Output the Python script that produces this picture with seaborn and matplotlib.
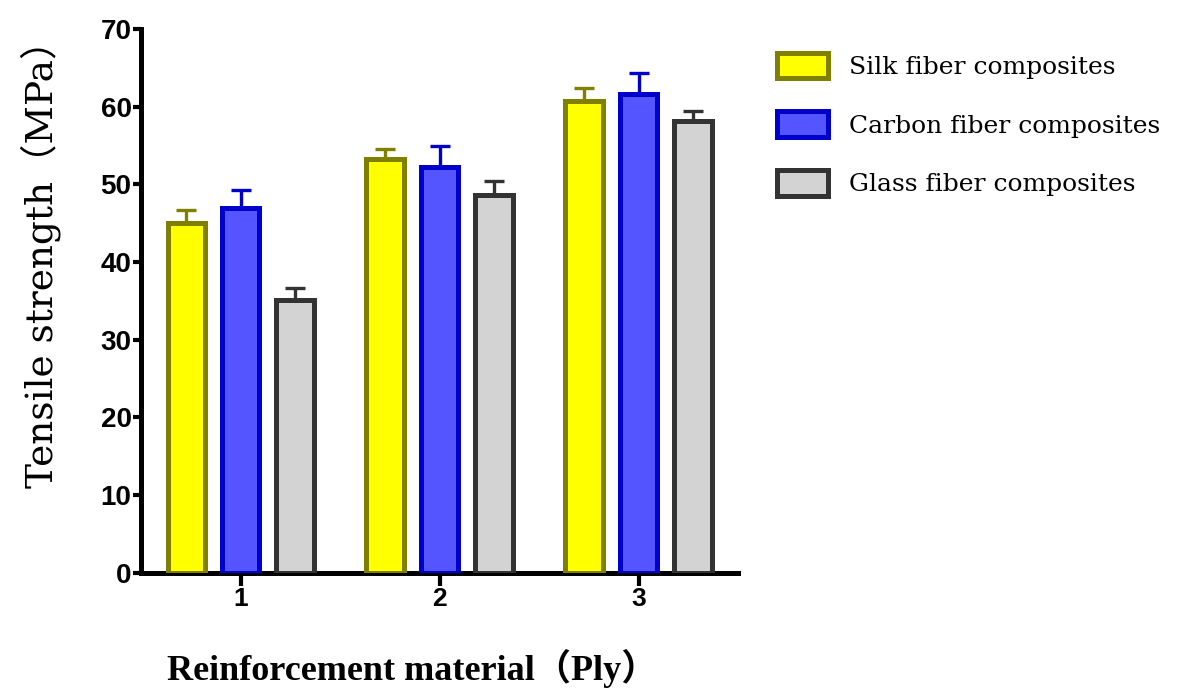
import matplotlib
matplotlib.use("Agg")
import matplotlib.pyplot as plt
import numpy as np
import pandas as pd
import seaborn as sns

# Tensile strength (MPa) by number of plies, with upper error
plies = ["1", "2", "3"]
materials = ["Silk fiber composites", "Carbon fiber composites", "Glass fiber composites"]
silk_mean = [45.0, 53.3, 60.7]
silk_err = [1.7, 1.3, 1.7]
carbon_mean = [47.0, 52.2, 61.6]
carbon_err = [2.3, 2.8, 2.7]
glass_mean = [35.1, 48.6, 58.2]
glass_err = [1.6, 1.8, 1.3]

means = [silk_mean, carbon_mean, glass_mean]
errs = [silk_err, carbon_err, glass_err]
face_colors = ["#FFFF00", "#5555FF", "#D3D3D3"]
edge_colors = ["#808000", "#0000CC", "#333333"]

df = pd.DataFrame({
    "ply": [p for m in materials for p in plies],
    "material": [m for m in materials for _ in plies],
    "strength": [v for series in means for v in series],
})

sns.set_theme(style="white")
plt.rcParams["font.family"] = ["DejaVu Serif", "Noto Sans CJK SC"]
plt.rcParams["text.color"] = "black"
plt.rcParams["axes.labelcolor"] = "black"
plt.rcParams["xtick.color"] = "black"
plt.rcParams["ytick.color"] = "black"

fig = plt.figure(figsize=(11.77, 6.91), dpi=100)
ax = fig.add_axes([0.120, 0.171, 0.507, 0.787])

sns.barplot(data=df, x="ply", y="strength", hue="material", order=plies,
            hue_order=materials, palette=face_colors, width=0.82, gap=0.31,
            errorbar=None, ax=ax, zorder=3)

for cont, fc, ec, m, e in zip(ax.containers, face_colors, edge_colors, means, errs):
    xs = []
    for patch in cont.patches:
        patch.set_facecolor(fc)
        patch.set_edgecolor(ec)
        patch.set_linewidth(3.6)
        xs.append(patch.get_x() + patch.get_width() / 2)
    ax.errorbar(xs, m, yerr=[np.zeros(len(e)), e], fmt="none", ecolor=ec,
                elinewidth=2.4, capsize=7, capthick=2.4, zorder=2)

if ax.get_legend() is not None:
    ax.get_legend().remove()

leg = ax.legend(ax.containers, materials, loc="upper left",
                bbox_to_anchor=(764 / 1177, 1 - 40 / 691),
                bbox_transform=fig.transFigure, frameon=False, borderpad=0,
                prop={"family": "DejaVu Serif", "size": 18},
                handlelength=2.05, handleheight=1.2, labelspacing=1.3,
                handletextpad=0.85)

ax.set_xlim(-0.5, 2.5)
ax.set_ylim(0, 70)
ax.set_yticks(np.arange(0, 71, 10))

for side in ["top", "right"]:
    ax.spines[side].set_visible(False)
for side in ["left", "bottom"]:
    ax.spines[side].set_linewidth(3.6)
    ax.spines[side].set_color("black")

ax.tick_params(axis="y", direction="out", length=6, width=3, left=True,
               labelsize=20, pad=1)
ax.tick_params(axis="x", direction="out", length=9, width=3, bottom=True,
               labelsize=19, pad=1)
for lbl in ax.get_yticklabels() + ax.get_xticklabels():
    lbl.set_fontfamily("Liberation Sans")
    lbl.set_fontweight("bold")

ax.set_ylabel("Tensile strength（MPa）", fontsize=27,
              family=["DejaVu Serif", "Noto Sans CJK SC"])
ax.yaxis.set_label_coords(-0.169, 0.585)
ax.yaxis.label.set_verticalalignment("center")

ax.set_xlabel("Reinforcement material（Ply）", fontsize=26, fontweight="bold",
              family=["Liberation Serif", "Noto Sans CJK SC"])
ax.xaxis.set_label_coords(0.454, -0.175)
ax.xaxis.label.set_verticalalignment("center")

fig.savefig("out.png", dpi=100, facecolor="white")
